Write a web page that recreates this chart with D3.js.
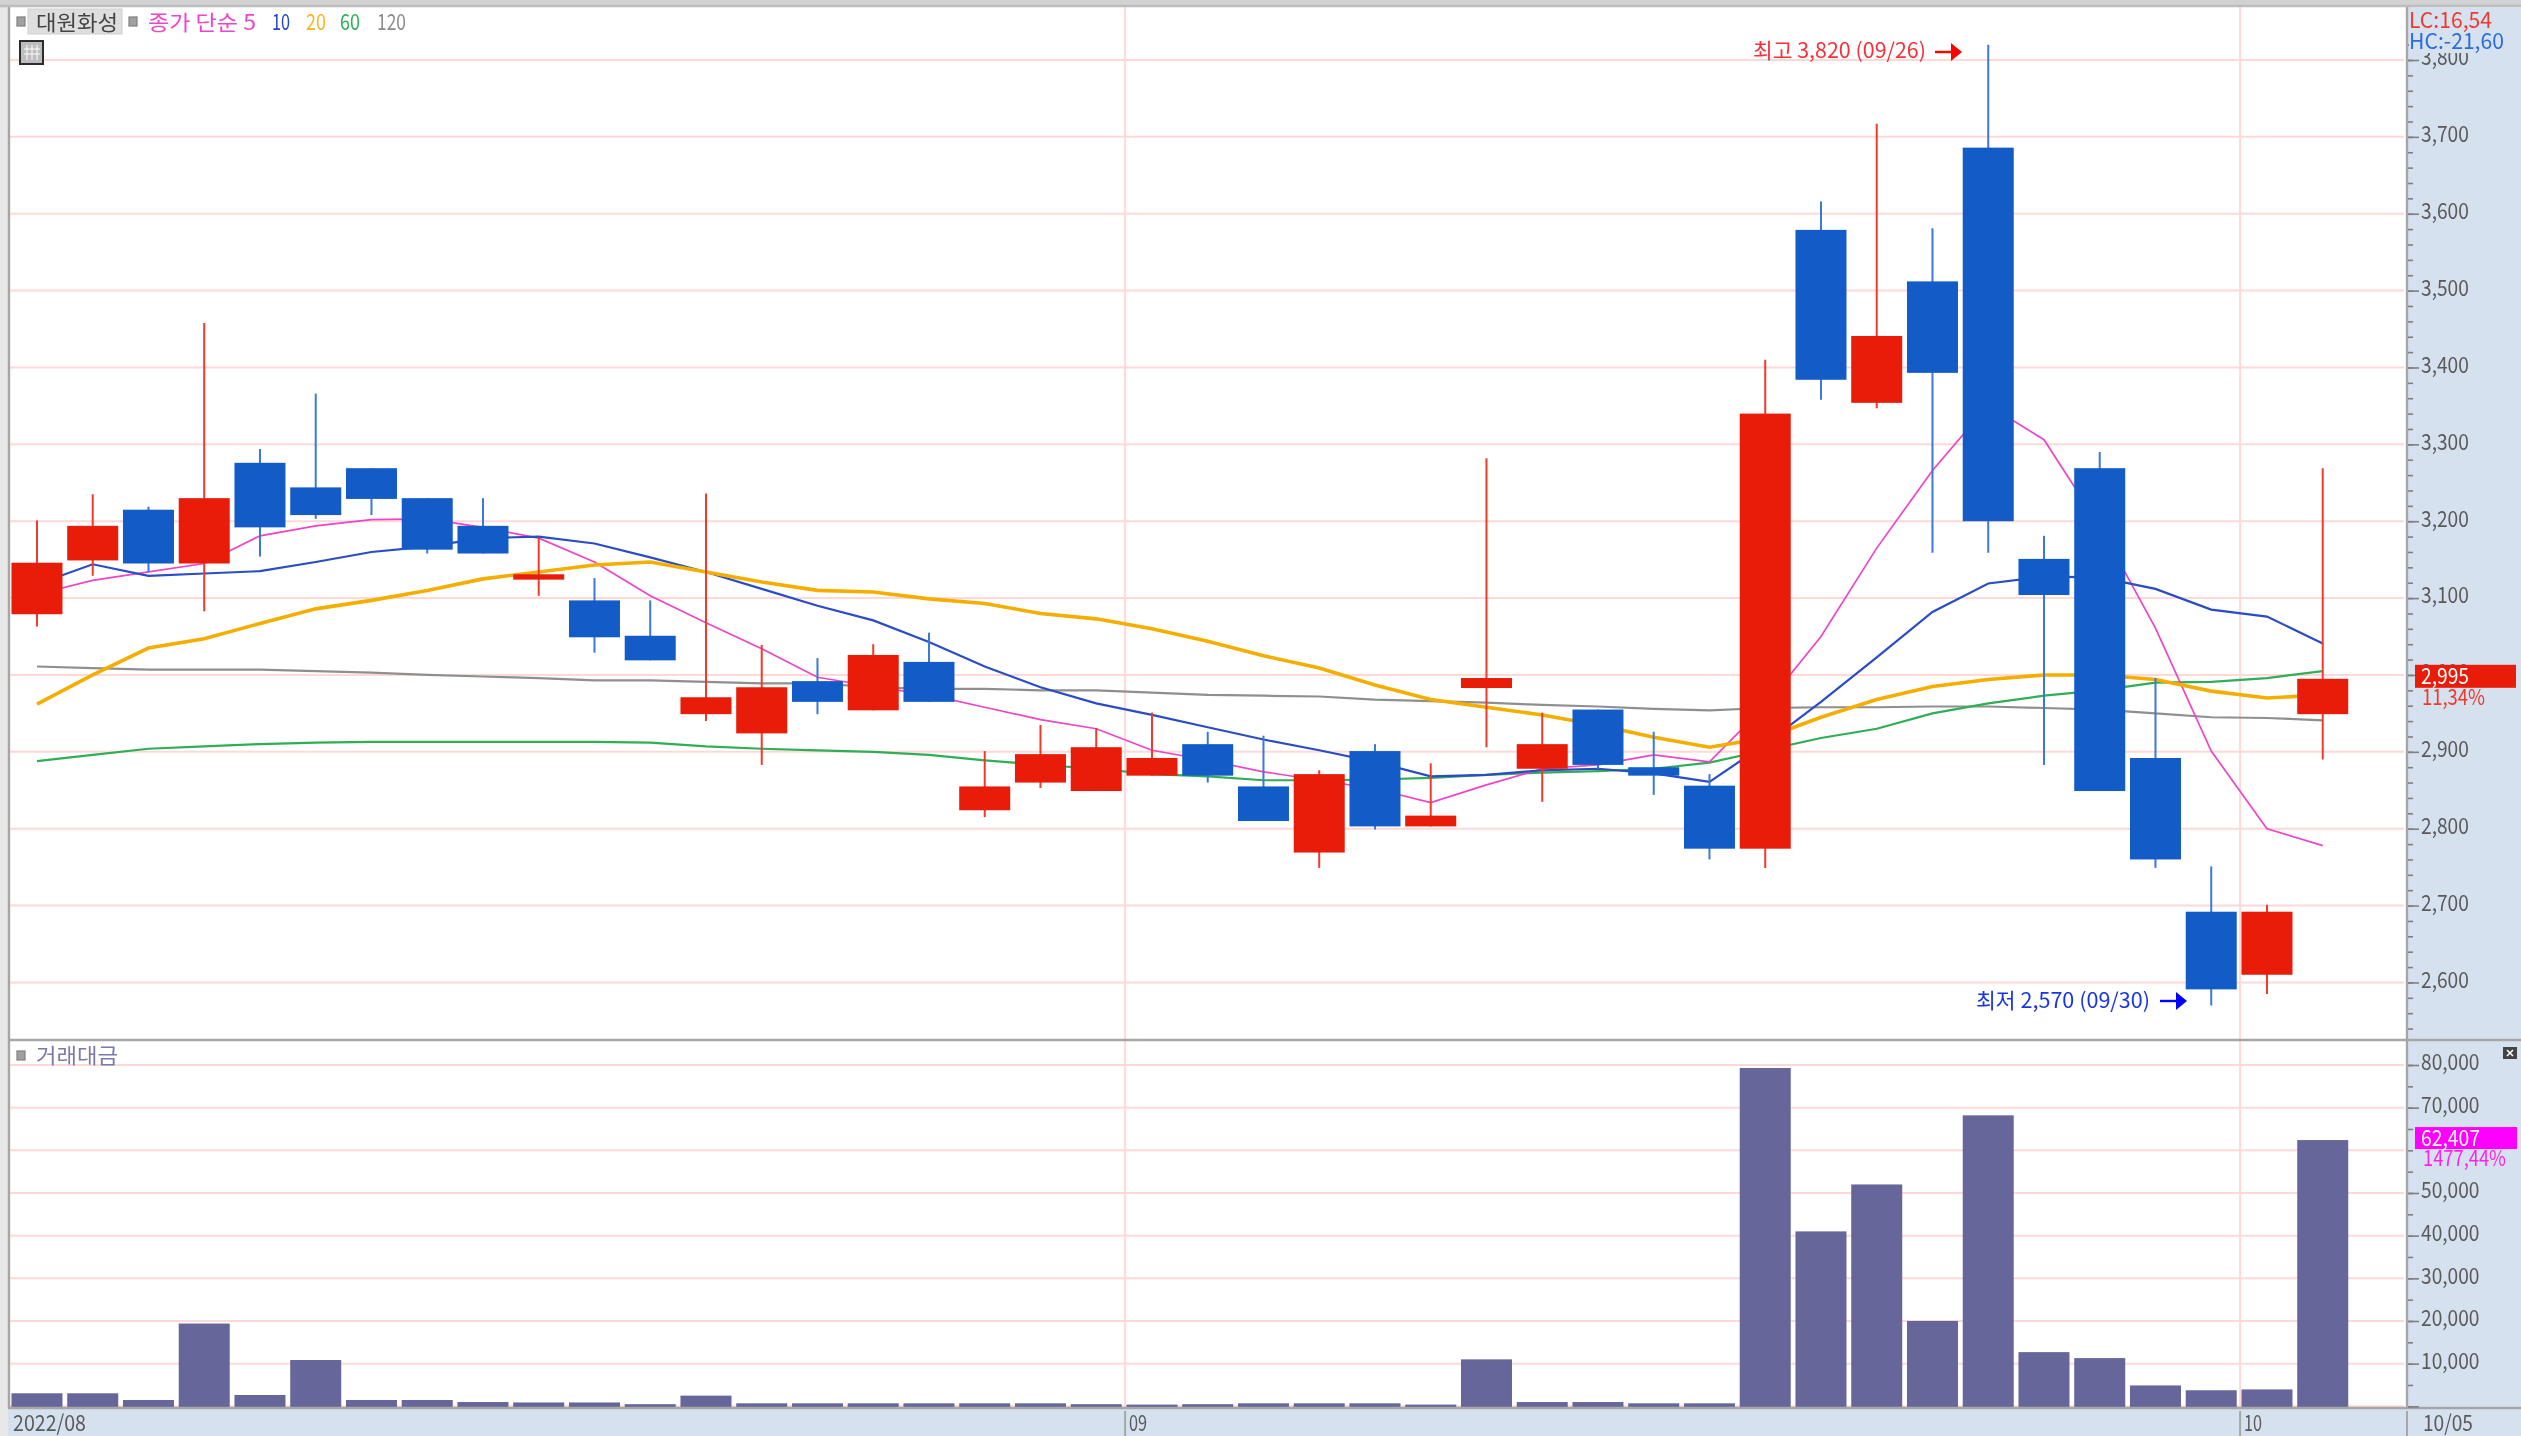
<!DOCTYPE html>
<html><head><meta charset="utf-8">
<script src="https://cdnjs.cloudflare.com/ajax/libs/d3/7.8.5/d3.min.js"></script>
<style>
html,body{margin:0;padding:0;background:#fff;overflow:hidden}
svg{display:block;filter:blur(0.45px)}
text{font-family:"Noto Sans CJK KR","Noto Sans",sans-serif;font-size:22px}
</style></head><body><svg id="c" width="2521" height="1436"></svg>
<script>
const dates=["08/03","08/04","08/05","08/08","08/09","08/10","08/11","08/12","08/16","08/17","08/18","08/19","08/22","08/23","08/24","08/25","08/26","08/29","08/30","08/31","09/01","09/02","09/05","09/06","09/07","09/08","09/13","09/14","09/15","09/16","09/19","09/20","09/21","09/22","09/23","09/26","09/27","09/28","09/29","09/30","10/04","10/05"];
const open_=[3079,3149,3215,3145,3276,3244,3269,3230,3194,3124,3097,3051,2949,2924,2992,2954,3017,2824,2860,2849,2869,2910,2855,2769,2901,2803,2983,2878,2955,2880,2856,2774,3579,3354,3512,3686,3151,3269,2892,2692,2610,2949];
const high=[3201,3235,3219,3458,3294,3366,3269,3230,3230,3179,3126,3097,3236,3039,3022,3040,3055,2901,2935,2931,2951,2926,2921,2876,2910,2885,3282,2951,2955,2926,2871,3410,3616,3717,3581,3820,3181,3290,2996,2751,2701,3269];
const low=[3063,3129,3134,3083,3154,3203,3208,3158,3158,3103,3029,3019,2940,2883,2949,2954,2965,2815,2853,2849,2869,2860,2810,2749,2799,2803,2906,2835,2878,2844,2760,2749,3358,3347,3159,3159,2883,2849,2749,2570,2585,2890];
const close_=[3146,3194,3145,3230,3192,3208,3229,3163,3158,3131,3049,3019,2971,2984,2965,3026,2965,2855,2897,2906,2892,2869,2810,2871,2803,2817,2996,2910,2883,2869,2774,3340,3384,3441,3393,3200,3104,2849,2760,2591,2692,2995];
const ma5=[3105,3123,3134,3145,3181,3194,3202,3203,3192,3178,3147,3103,3068,3034,2997,2985,2974,2958,2942,2930,2902,2889,2874,2863,2852,2834,2857,2878,2883,2896,2887,2960,3050,3165,3266,3351,3306,3194,3061,2901,2800,2778];
const ma10=[3118,3144,3129,3132,3135,3147,3160,3167,3178,3180,3171,3153,3134,3112,3090,3071,3043,3011,2984,2963,2948,2932,2916,2902,2887,2868,2870,2876,2878,2872,2861,2910,2965,3023,3082,3119,3128,3127,3112,3085,3076,3041];
const ma20=[2962,3000,3035,3047,3067,3086,3097,3110,3125,3134,3143,3147,3134,3121,3110,3108,3099,3093,3080,3073,3060,3044,3025,3009,2987,2968,2958,2948,2935,2919,2906,2918,2945,2968,2985,2994,3000,3000,2994,2979,2970,2974];
const ma60=[2888,2896,2904,2907,2910,2912,2913,2913,2913,2913,2913,2912,2907,2904,2902,2900,2896,2889,2883,2878,2871,2868,2863,2863,2864,2866,2870,2873,2875,2878,2886,2902,2918,2930,2950,2963,2973,2980,2990,2991,2996,3005];
const ma120=[3011,3009,3007,3007,3007,3005,3003,3000,2998,2996,2993,2993,2991,2989,2989,2984,2982,2982,2980,2980,2977,2974,2973,2972,2968,2966,2964,2961,2959,2956,2954,2957,2958,2958,2959,2959,2957,2955,2950,2945,2944,2941];
const volume=[3050,3050,1480,19400,2650,10850,1480,1480,1000,900,900,500,2500,700,700,700,700,700,700,500,400,500,700,700,700,400,11000,1000,1000,700,700,79300,41000,52000,20000,68200,12700,11300,4890,3760,3957,62407];
const priceTicks=[2600,2700,2800,2900,3000,3100,3200,3300,3400,3500,3600,3700,3800];
const priceMinor=d3.range(2520,3880,20);
const volTicks=[10000,20000,30000,40000,50000,70000,80000];
const volGrid=[0,10000,20000,30000,40000,50000,60000,70000,80000];
const volMinor=d3.range(0,85000,5000);
const monthStarts=[{date:"09/01",label:"09"},{date:"10/04",label:"10"}];
const legendItems=[{t:"종가 단순 5",c:"#ee44c8",x:148,w:108,s:21},{t:"10",c:"#2244cc",x:272,w:18},{t:"20",c:"#fbb324",x:306,w:20},{t:"60",c:"#2fae55",x:340,w:20},{t:"120",c:"#8a8a8a",x:377,w:29}];

const COL={red:"#e81c08",blue:"#135cc8",redW:"#f03a2a",blueW:"#3a78dc",grid:"#ffd8d8",panel:"#d6e1ef",axis:"#a6a6a6",label:"#5a5a5a",vol:"#66669a"};
const W=2521,H=1436,L=10,R=2406,T=7,DIV=1040,BASE=1408;
const svg=d3.select("#c");
svg.append("rect").attr("width",W).attr("height",H).attr("fill","#fff");
svg.append("rect").attr("x",R).attr("y",0).attr("width",W-R).attr("height",H).attr("fill",COL.panel);
svg.append("rect").attr("x",0).attr("y",BASE).attr("width",W).attr("height",H-BASE).attr("fill",COL.panel);
svg.append("rect").attr("width",8).attr("height",H).attr("fill","#e8e8e8");
svg.append("rect").attr("width",W).attr("height",5).attr("fill","#d2d2d2");

const x=d3.scaleBand().domain(dates).range([9.1,2350.6]).paddingInner(0.085).paddingOuter(0.0425);
const cx=d=>x(d)+x.bandwidth()/2;
const y=d3.scaleLinear().domain([2800,3800]).range([828.7,60]);
const yv=d3.scaleLinear().domain([0,80000]).range([1406.3,1065]);
const idx=d3.range(dates.length);

const grid=svg.append("g").attr("stroke",COL.grid).attr("stroke-width",2);
grid.selectAll(".p").data(priceTicks).join("line").attr("class","p").attr("x1",L).attr("x2",R-2).attr("y1",y).attr("y2",y);
grid.selectAll(".v").data(volGrid).join("line").attr("class","v").attr("x1",L).attr("x2",R-2).attr("y1",yv).attr("y2",yv);
grid.selectAll(".m").data(monthStarts).join("line").attr("class","m")
 .attr("x1",d=>x(d.date)-x.step()*0.0425+1).attr("x2",d=>x(d.date)-x.step()*0.0425+1).attr("y1",T).attr("y2",BASE);

const line=a=>d3.line().x((d,i)=>cx(dates[i])).y(d=>y(d))(a);
[[ma120,"#8f8f8f",2.2],[ma60,"#2fae55",2.2],[ma5,"#ee44c8",1.7],[ma10,"#2a4cc4",2.2],[ma20,"#f4ae00",3.6]].forEach(([a,c,w])=>{
 svg.append("path").attr("d",line(a)).attr("fill","none").attr("stroke",c).attr("stroke-width",w);
});

const up=i=>close_[i]>=open_[i];
svg.append("g").selectAll("line").data(idx).join("line")
 .attr("x1",i=>cx(dates[i])).attr("x2",i=>cx(dates[i])).attr("y1",i=>y(high[i])).attr("y2",i=>y(low[i]))
 .attr("stroke",i=>up(i)?COL.redW:COL.blueW).attr("stroke-width",2);
svg.append("g").selectAll("rect").data(idx).join("rect")
 .attr("x",i=>x(dates[i])).attr("width",x.bandwidth())
 .attr("y",i=>y(Math.max(open_[i],close_[i]))).attr("height",i=>Math.abs(y(open_[i])-y(close_[i])))
 .attr("fill",i=>up(i)?COL.red:COL.blue);

svg.append("g").selectAll("rect").data(idx).join("rect")
 .attr("x",i=>x(dates[i])).attr("width",x.bandwidth())
 .attr("y",i=>yv(volume[i])).attr("height",i=>BASE-1-yv(volume[i]))
 .attr("fill",COL.vol);

const frame=svg.append("g").attr("stroke",COL.axis).attr("stroke-width",2.4);
frame.append("line").attr("x1",9).attr("x2",9).attr("y1",5).attr("y2",BASE);
frame.append("line").attr("x1",R+1).attr("x2",R+1).attr("y1",5).attr("y2",BASE);
frame.append("line").attr("x1",8).attr("x2",W).attr("y1",DIV).attr("y2",DIV);
frame.append("line").attr("x1",8).attr("x2",W).attr("y1",BASE).attr("y2",BASE);
frame.append("line").attr("x1",0).attr("x2",W).attr("y1",6).attr("y2",6).attr("stroke","#bdbdbd");

const numW=s=>s.replace(/,/g,"").length*10.6+(s.match(/,/g)||[]).length*5.5;
function axis(scale,majors,minors,fmt){
 const g=svg.append("g").attr("transform",`translate(${R+2},0)`);
 g.call(d3.axisRight(scale).tickValues(minors).tickSize(5).tickFormat("")).call(s=>s.select(".domain").remove());
 g.selectAll("line").attr("stroke","#808080").attr("stroke-width",1.6);
 const m=svg.append("g").attr("transform",`translate(${R+2},0)`);
 m.call(d3.axisRight(scale).tickValues(majors).tickSize(11).tickPadding(2).tickFormat(fmt)).call(s=>s.select(".domain").remove());
 m.selectAll("line").attr("stroke","#808080").attr("stroke-width",1.6);
 m.selectAll("text").attr("fill",COL.label).attr("dy","0.22em").attr("font-family",null).style("font-size","22px")
  .filter(function(){return this.textContent!==""})
  .attr("textLength",function(){return numW(this.textContent)}).attr("lengthAdjust","spacingAndGlyphs");
}
const fmt=d3.format(",");
axis(y,priceTicks,priceMinor.filter(d=>y(d)>40&&y(d)<1035),fmt);
axis(yv,volTicks.concat([0]),volMinor,d=>d?fmt(d):"");

const tx=(t,px,py,c,w,size=22)=>svg.append("text").attr("x",px).attr("y",py).attr("fill",c).style("font-size",size+"px")
 .attr("textLength",w).attr("lengthAdjust","spacingAndGlyphs").text(t);
tx("2022/"+dates[0].slice(0,2),13,1431,COL.label,73);
monthStarts.forEach(d=>{const px=x(d.date)-x.step()*0.0425+1;
 tx(d.label,px+4,1431,COL.label,18);
 svg.append("line").attr("x1",px).attr("x2",px).attr("y1",BASE+3).attr("y2",H).attr("stroke",COL.axis).attr("stroke-width",2);});
svg.append("line").attr("x1",R+1).attr("x2",R+1).attr("y1",BASE+3).attr("y2",H).attr("stroke",COL.axis).attr("stroke-width",2);
tx(dates[dates.length-1],2423,1431,COL.label,50);

svg.append("rect").attr("x",R+3).attr("y",7).attr("width",W-R-3).attr("height",46).attr("fill",COL.panel);
tx("LC:16,54",2409,28,"#ee3a2e",83);
tx("HC:-21,60",2409,49,"#2a6cdc",95);

const last=close_[close_.length-1], lastV=volume[volume.length-1];
svg.append("rect").attr("x",2415).attr("y",y(last)-14).attr("width",101).attr("height",23).attr("fill",COL.red);
tx(fmt(last),2421,y(last)+5,"#fff",48);
tx("11,34%",2422,705,"#f0382a",63);
svg.append("rect").attr("x",2415).attr("y",yv(lastV)-13).attr("width",102).attr("height",22).attr("fill","#ff00ff");
tx(fmt(lastV),2421,yv(lastV)+6,"#fff",59);
tx("1477,44%",2423,1166,"#ff22ee",83);

const arrow=(px,py,c)=>{
 svg.append("line").attr("x1",px).attr("x2",px+18).attr("y1",py).attr("y2",py).attr("stroke",c).attr("stroke-width",2.4);
 svg.append("path").attr("d",d3.line()([[px+16,py-9],[px+27,py],[px+16,py+9]])).attr("fill",c);
};
const hiI=high.indexOf(d3.max(high)),loI=low.indexOf(d3.min(low));
tx(`최고 ${fmt(high[hiI])} (${dates[hiI]})`,1753,58,"#f5303a",173,21);
arrow(1935,52,"#ff0000");
tx(`최저 ${fmt(low[loI])} (${dates[loI]})`,1976,1008,"#1a36e0",174,21);
arrow(2160,1001,"#0000ff");

const sq=(px,py)=>svg.append("rect").attr("x",px).attr("y",py).attr("width",8).attr("height",9).attr("fill","#a0a0a0").attr("stroke","#808080").attr("stroke-width",1.2);
sq(17,17);sq(129,17);sq(17,1051);
svg.append("rect").attr("x",28).attr("y",9).attr("width",94).attr("height",25).attr("fill","#dedede").attr("stroke","#cfcfcf");
tx("대원화성",36,30,"#444",82,21);
legendItems.forEach(d=>tx(d.t,d.x,30,d.c,d.w,d.s||22));
tx("거래대금",36,1063,"#7a7aaa",82,21);
const ic=svg.append("g");
ic.append("rect").attr("x",20).attr("y",41).attr("width",23).attr("height",23).attr("fill","#bdbdbd").attr("stroke","#2c2c2c").attr("stroke-width",2);
ic.selectAll("line.a").data([27,32,37]).join("line").attr("class","a").attr("x1",d=>d).attr("x2",d=>d).attr("y1",45).attr("y2",60).attr("stroke","#f4f4f4").attr("stroke-width",1.2);
ic.selectAll("line.b").data([49,54]).join("line").attr("class","b").attr("x1",24).attr("x2",40).attr("y1",d=>d).attr("y2",d=>d).attr("stroke","#f4f4f4").attr("stroke-width",1.2);
svg.append("rect").attr("x",2503).attr("y",1047).attr("width",14).attr("height",12).attr("fill","#444");
svg.append("path").attr("d","M2507 1050L2513 1056M2513 1050L2507 1056").attr("stroke","#fff").attr("stroke-width",1.6);
</script></body></html>
